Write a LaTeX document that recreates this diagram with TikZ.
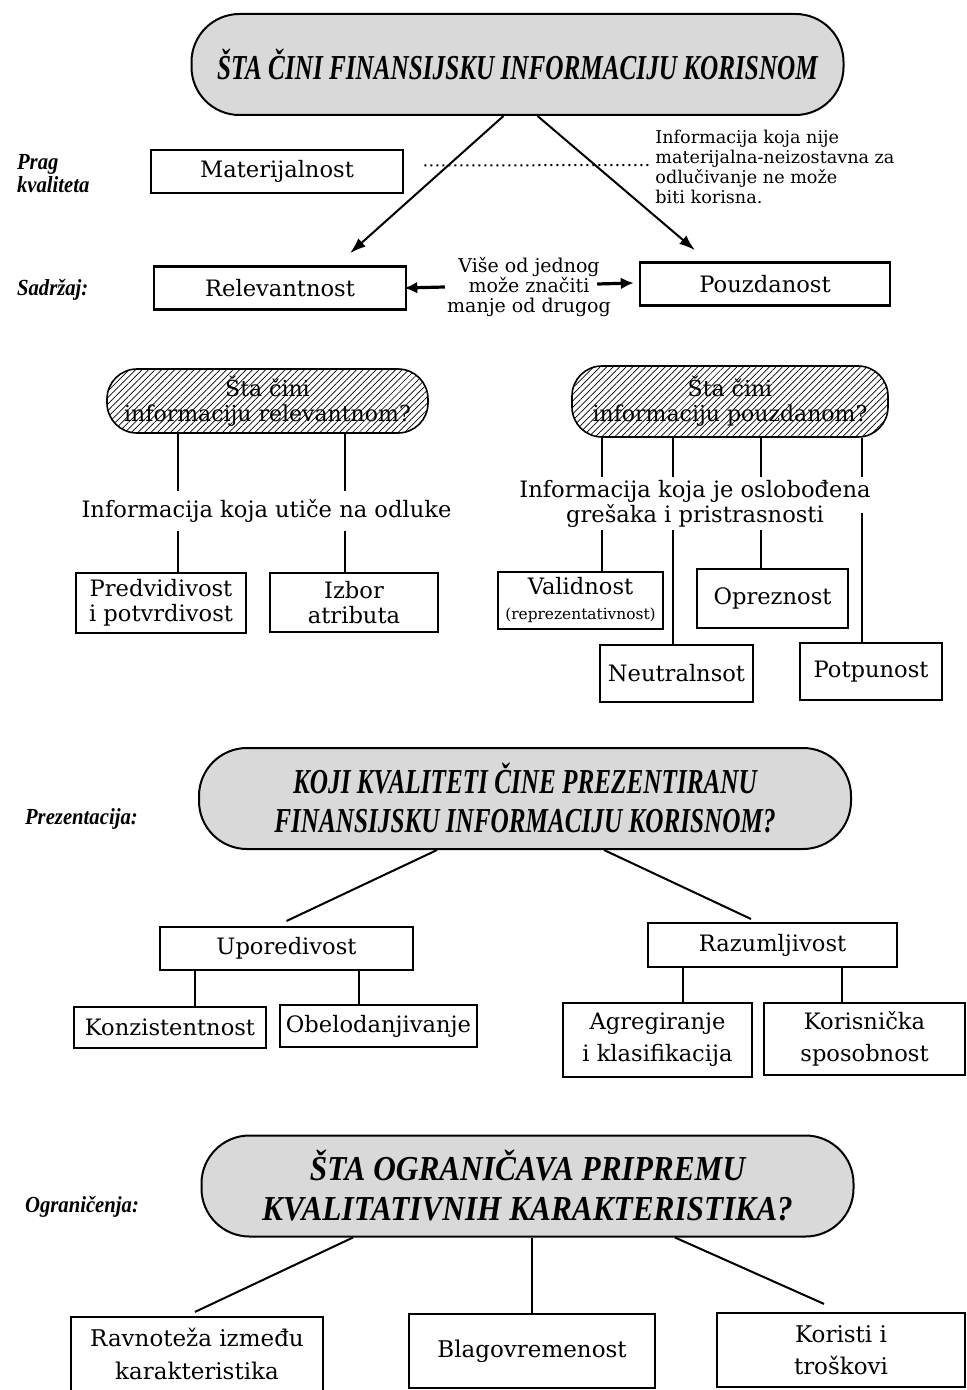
\documentclass[tikz,border=0pt]{standalone}
\usepackage{fontspec}
\setmainfont{DejaVu Serif}
\newfontfamily\ttlfont[FakeStretch=0.72]{Liberation Serif}
\newfontfamily\ttlwide[FakeStretch=0.894]{Liberation Serif}
\newfontfamily\sidefont[FakeStretch=0.9]{Liberation Serif}
\usetikzlibrary{positioning, arrows.meta, patterns.meta}

\begin{document}
\begin{tikzpicture}[
        x=0.5pt, y=-0.5pt,
        font=\fontsize{11.3}{12.5}\selectfont,
        bigpill/.style={rectangle, draw, fill=gray!30, rounded corners=24pt,
          minimum width=326pt, minimum height=50.5pt, line width=1pt,
          align=center, font=\ttlfont\bfseries\itshape\fontsize{17.5}{19.5}\selectfont},
        hatch/.style={rectangle, draw, pattern={Lines[angle=45,
          distance=2.3pt, line width=0.35pt]}, rounded corners=15pt,
          line width=0.8pt, align=center, font=\fontsize{11}{12.5}\selectfont},
        thickbox/.style={rectangle, draw, line width=1.3pt, align=center,
          minimum width=126pt, minimum height=21.5pt},
        box/.style={rectangle, draw, line width=0.8pt, align=center, inner sep=1pt},
        side/.style={anchor=west, align=left,
          font=\sidefont\bfseries\itshape\fontsize{11.5}{11.5}\selectfont},
        line/.style={draw, line width=1pt},
        stem/.style={draw, line width=0.8pt},
        arrow/.style={draw, line width=1pt, -{Latex[length=8pt, width=5.5pt]}},
        short/.style={draw, line width=1.6pt, -{Latex[length=6.5pt, width=6pt]}}
      ]
      \useasboundingbox (0,0) rectangle (967,1390);

      % quality of information
      \node [bigpill] (t1) at (517.5,64.5) {ŠTA ČINI FINANSIJSKU INFORMACIJU KORISNOM};

      \node [side] (prag) at (10,174) {Prag\\kvaliteta};
      \node [side] (sadrzaj) at (10,290) {Sadržaj:};

      \node [thickbox] (mat) at (277,171.5) {Materijalnost};
      \node [thickbox] (rel) at (280,288) {Relevantnost};
      \node [thickbox, minimum width=125pt] (pouz) at (765,284) {Pouzdanost};

      \node [anchor=west, align=left, inner sep=0pt,
      font=\fontsize{8.8}{10}\selectfont] (note) at (655,167)
      {Informacija koja nije\\materijalna-neizostavna za\\odlučivanje ne može\\biti korisna.};
      \node [align=center, inner sep=0pt, font=\fontsize{9.5}{9.8}\selectfont]
      (mid) at (529,287) {Više od jednog\\može značiti\\manje od drugog};

      \coordinate (dotend) at (650,165);
      \path [line, dotted] ([xshift=10pt, yshift=3pt]mat.east) -- (dotend);

      \path [arrow] ([xshift=-7pt]t1.south) -- ([xshift=35pt, yshift=6pt]rel.north);
      \path [arrow] ([xshift=10pt]t1.south) -- ([xshift=-35pt, yshift=5.5pt]pouz.north);
      \path [short] ([xshift=-1pt]mid.west) -- ([xshift=-1.5pt]rel.east);
      \path [short] ([xshift=-7pt, yshift=1.5pt]mid.east)
      -- ([xshift=-2.5pt, yshift=0.5pt]pouz.west);

      % relevance and reliability
      \node [hatch, minimum width=160.5pt, minimum height=32pt] (hl) at (267.5,401)
      {Šta čini\\informaciju relevantnom?};
      \node [hatch, minimum width=158pt, minimum height=35.5pt] (hr) at (730,401.5)
      {Šta čini\\informaciju pouzdanom?};

      \node [inner xsep=0pt, inner ysep=4pt] (rtxt) at (266.5,511)
      {Informacija koja utiče na odluke};
      \node [align=center, inner xsep=0pt, inner ysep=1.5pt] (ptxt) at (695,503.5)
      {Informacija koja je oslobođena\\grešaka i pristrasnosti};

      \node [box, minimum width=85pt, minimum height=30pt] (pred) at (161,603)
      {Predvidivost\\i potvrdivost};
      \node [box, minimum width=84pt, minimum height=29.5pt] (izb) at (354,602.5)
      {Izbor\\atributa};
      \node [box, minimum width=82.5pt, minimum height=28.5pt] (vali) at (580.5,600.5)
      {Validnost\\{\fontsize{7.7}{9}\selectfont (reprezentativnost)}};
      \node [box, minimum width=75.5pt, minimum height=29.5pt] (opr) at (772.5,598.5)
      {Opreznost};
      \node [box, minimum width=76.5pt, minimum height=28.5pt] (neut) at (676.5,673.5)
      {Neutralnsot};
      \node [box, minimum width=71pt, minimum height=28.5pt] (potp) at (871,671.5)
      {Potpunost};

      \coordinate (c1) at (178,0);
      \coordinate (c2) at (345,0);
      \coordinate (c3) at (602,0);
      \coordinate (c4) at (673,0);
      \coordinate (c5) at (761,0);
      \coordinate (c6) at (862,0);

      \path [stem] (hl.south -| c1) -- (rtxt.north -| c1);
      \path [stem] (rtxt.south -| c1) -- (pred.north -| c1);
      \path [stem] (hl.south -| c2) -- (rtxt.north -| c2);
      \path [stem] (rtxt.south -| c2) -- (izb.north -| c2);

      \path [stem] (hr.south -| c3) -- (ptxt.north -| c3);
      \path [stem] (ptxt.south -| c3) -- (vali.north -| c3);
      \path [stem] (hr.south -| c4) -- (ptxt.north -| c4);
      \path [stem] (ptxt.south -| c4) -- (neut.north -| c4);
      \path [stem] (hr.south -| c5) -- (ptxt.north -| c5);
      \path [stem] (ptxt.south -| c5) -- (opr.north -| c5);
      \path [stem] (hr.south -| c6) -- (ptxt.north -| c6);
      \path [stem] ([yshift=-4.5pt]ptxt.center -| c6) -- (potp.north -| c6);

      % presentation
      \node [bigpill] (t2) at (525,798.5)
      {KOJI KVALITETI ČINE PREZENTIRANU\\FINANSIJSKU INFORMACIJU KORISNOM?};
      \node [side] (prez) at (18,819) {Prezentacija:};

      \node [thickbox, line width=1pt, minimum width=126.5pt] (upo) at (286.5,948.5)
      {Uporedivost};
      \node [thickbox, line width=1pt, minimum width=124.5pt, minimum height=22pt] (raz)
      at (772.5,945) {Razumljivost};

      \node [box, line width=1.1pt, minimum width=96pt, minimum height=20.5pt] (kon)
      at (170,1027.5) {Konzistentnost};
      \node [box, line width=1.1pt, minimum width=98.5pt, minimum height=21pt] (obe)
      at (378.5,1026) {Obelodanjivanje};
      \node [box, line width=1.1pt, minimum width=94.5pt, minimum height=37pt,
      font=\fontsize{11.3}{16}\selectfont] (agr) at (657.5,1040)
      {Agregiranje\\i klasifikacija};
      \node [box, line width=1.1pt, minimum width=100.5pt, minimum height=36pt,
      font=\fontsize{11.3}{16}\selectfont] (kor) at (864.5,1039)
      {Korisnička\\sposobnost};

      \path [line] ([xshift=-44pt]t2.south) -- ([yshift=2.5pt]upo.north);
      \path [line] ([xshift=39.5pt]t2.south) -- ([xshift=-10.75pt, yshift=1.5pt]raz.north);

      \coordinate (c7) at (195,0);
      \coordinate (c8) at (359,0);
      \coordinate (c9) at (683,0);
      \coordinate (c10) at (842,0);

      \path [stem] (upo.south -| c7) -- (kon.north -| c7);
      \path [stem] (upo.south -| c8) -- (obe.north -| c8);
      \path [stem] (raz.south -| c9) -- (agr.north -| c9);
      \path [stem] (raz.south -| c10) -- (kor.north -| c10);

      % constraints
      \node [bigpill, font=\ttlwide\bfseries\itshape\fontsize{17.5}{20}\selectfont] (t3)
      at (527.5,1186) {ŠTA OGRANIČAVA PRIPREMU\\KVALITATIVNIH KARAKTERISTIKA?};
      \node [side] (ogr) at (18,1207) {Ograničenja:};

      \node [box, line width=1.1pt, minimum width=126pt, minimum height=37pt,
      font=\fontsize{11.5}{16.5}\selectfont] (rav) at (197,1354)
      {Ravnoteža između\\karakteristika};
      \node [box, line width=1.1pt, minimum width=123pt, minimum height=37pt,
      font=\fontsize{11.5}{16.5}\selectfont] (bla) at (532,1351)
      {Blagovremenost};
      \node [box, line width=1.1pt, minimum width=124pt, minimum height=37pt,
      font=\fontsize{11.5}{16}\selectfont] (kos) at (841,1350)
      {Koristi i\\troškovi};

      \path [line] ([xshift=-87.25pt]t3.south) -- ([xshift=-1pt, yshift=2pt]rav.north);
      \path [line] (t3.south -| bla.north) -- (bla.north);
      \path [line] ([xshift=73.75pt]t3.south) -- ([xshift=-8.5pt, yshift=4pt]kos.north);

    \end{tikzpicture}
\end{document}
